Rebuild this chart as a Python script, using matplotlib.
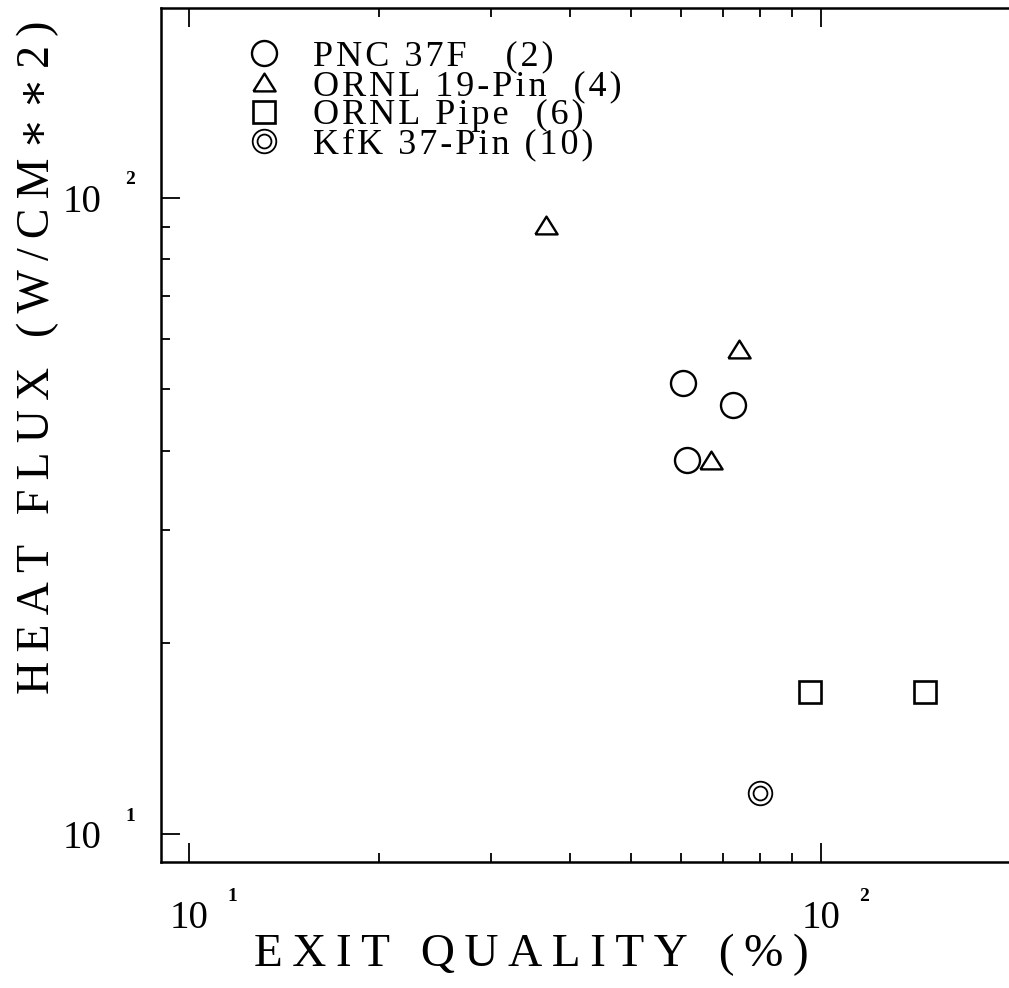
import matplotlib
matplotlib.use("Agg")
import matplotlib.pyplot as plt
from matplotlib.ticker import FixedLocator, FixedFormatter, LogLocator, NullFormatter
from matplotlib.lines import Line2D
from matplotlib.legend_handler import HandlerTuple

# data (exit quality %, heat flux W/cm2)
pnc_x = [60.5, 72.6, 61.4]
pnc_y = [51.1, 47.2, 38.7]
ornl19_x = [36.7, 74.1, 67.0]
ornl19_y = [90.6, 57.8, 38.7]
pipe_x = [96.1, 146.0]
pipe_y = [16.7, 16.7]
kfk_x = [80.1]
kfk_y = [11.6]

labels = ["PNC 37F   (2)", "ORNL 19-Pin  (4)", "ORNL Pipe  (6)", "KfK 37-Pin (10)"]
decades = [1, 2]

serif = ["Liberation Serif", "DejaVu Serif"]


def spaced(s, sep="\u2009"):
    # old plotter lettering is widely spaced: put a thin space between letters
    return sep.join(s)


fig = plt.figure(figsize=(10.09, 9.88), dpi=100)
ax = fig.add_axes([0.1596, 0.1275, 0.86, 0.8644])
ax.set_xscale("log")
ax.set_yscale("log")
ax.set_xlim(9.03, 213.0)
ax.set_ylim(9.04, 198.6)

tri = [(-1, -0.8), (1, -0.8), (0, 0.8), (-1, -0.8)]
kw = dict(linestyle="none", markerfacecolor="none", markeredgecolor="black")
ax.plot(pnc_x, pnc_y, marker="o", markersize=18, markeredgewidth=1.7, **kw)
ax.plot(ornl19_x, ornl19_y, marker=tri, markersize=16, markeredgewidth=1.7, **kw)
ax.plot(pipe_x, pipe_y, marker="s", markersize=16, markeredgewidth=1.9, **kw)
ax.plot(kfk_x, kfk_y, marker="o", markersize=17, markeredgewidth=1.3, **kw)
ax.plot(kfk_x, kfk_y, marker="o", markersize=10, markeredgewidth=1.3, **kw)

# axes frame / ticks
for s in ax.spines.values():
    s.set_linewidth(1.8)
major = [10.0 ** d for d in decades]
for axis in (ax.xaxis, ax.yaxis):
    axis.set_major_locator(FixedLocator(major))
    axis.set_major_formatter(FixedFormatter(["10"] * len(major)))
    axis.set_minor_locator(LogLocator(base=10, subs=range(2, 10)))
    axis.set_minor_formatter(NullFormatter())
ax.tick_params(which="both", direction="in", top=True, right=True, width=1.3)
ax.tick_params(which="major", length=14)
ax.tick_params(which="minor", length=6.5)
ax.tick_params(axis="x", which="major", pad=27)
ax.tick_params(axis="y", which="major", pad=43)
for t in ax.get_xticklabels() + ax.get_yticklabels():
    t.set_fontfamily(serif)
    t.set_fontsize(28)

# exponents of the 10^n tick labels
for d in decades:
    ax.annotate(str(d), xy=(10.0 ** d, 0), xycoords=("data", "axes fraction"),
                xytext=(43, -34), textcoords="offset pixels", ha="center", va="center",
                fontsize=14, fontweight="bold", family=serif)
    ax.annotate(str(d), xy=(0, 10.0 ** d), xycoords=("axes fraction", "data"),
                xytext=(-31, 18), textcoords="offset pixels", ha="center", va="center",
                fontsize=14, fontweight="bold", family=serif)

ax.set_xlabel(spaced("EXIT QUALITY (%)"), family=serif, fontsize=34)
ax.xaxis.set_label_coords(0.4336 * 0.847 / 0.86, -0.109)
ax.xaxis.label.set_va("center")
ax.set_ylabel(spaced("HEAT FLUX (W/CM\u2217\u22172)"), family=serif, fontsize=33)
ax.yaxis.set_label_coords(-0.1445 * 0.847 / 0.86, 0.591)
ax.yaxis.label.set_va("center")

h_pnc = Line2D([], [], marker="o", markersize=18, markeredgewidth=1.7, **kw)
h_ornl = Line2D([], [], marker=tri, markersize=16, markeredgewidth=1.7, **kw)
h_pipe = Line2D([], [], marker="s", markersize=16, markeredgewidth=1.9, **kw)
h_kfk = (Line2D([], [], marker="o", markersize=17, markeredgewidth=1.3, **kw),
         Line2D([], [], marker="o", markersize=10, markeredgewidth=1.3, **kw))
ax.legend([h_pnc, h_ornl, h_pipe, h_kfk], [spaced(l, "\u200a") for l in labels],
          handler_map={tuple: HandlerTuple(ndivide=1)},
          loc="upper left", bbox_to_anchor=(0.1 * 0.847 / 0.86, 0.962), frameon=False,
          prop={"family": serif, "size": 26}, handlelength=0.95, handletextpad=0.9,
          labelspacing=-0.11, borderpad=0, borderaxespad=0)

fig.savefig("out.png", dpi=100)
